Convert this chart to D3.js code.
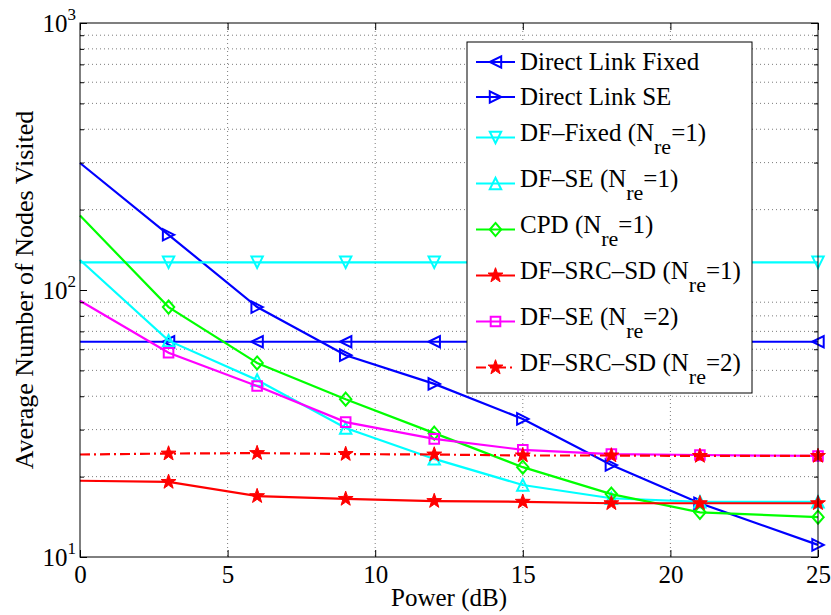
<!DOCTYPE html>
<html>
<head>
<meta charset="utf-8">
<script src="https://cdn.jsdelivr.net/npm/d3@7"></script>
<style>
  body { margin: 0; background: #fff; }
  text { font-family: "Liberation Serif", "Times New Roman", serif; fill: #000; }
</style>
</head>
<body>
<div class="canvas"></div>
<script>
const svgWidth = 831;
const svgHeight = 615;

// Data
const power = [0, 3, 6, 9, 12, 15, 18, 21, 25];
const directFixed = [64, 64, 64, 64, 64, 64, 64, 64, 64];
const directSE = [299, 161, 86.3, 57, 44.5, 32.9, 22.1, 15.9, 11.1];
const dfFixed1 = [127, 127, 127, 127, 127, 127, 127, 127, 127];
const dfSE1 = [129.5, 64.6, 46, 30.4, 23.3, 18.6, 16.6, 16.1, 16.1];
const cpd1 = [190, 86.3, 53.3, 39, 29.1, 21.7, 17.2, 14.7, 14.1];
const dfSrcSd1 = [19.3, 19.1, 16.9, 16.5, 16.2, 16.1, 15.9, 15.9, 15.9];
const dfSE2 = [91.2, 58.2, 43.7, 32, 27.7, 25.2, 24.3, 24.1, 23.9];
const dfSrcSd2 = [24.2, 24.4, 24.5, 24.3, 24.2, 24.0, 24.0, 23.9, 23.9];

const seriesNames = ['Direct Link Fixed', 'Direct Link SE', 'DF\u2013Fixed', 'DF\u2013SE', 'CPD',
    'DF\u2013SRC\u2013SD', 'DF\u2013SE', 'DF\u2013SRC\u2013SD'];
const relayCount = [null, null, 1, 1, 1, 1, 2, 2];
const seriesValues = [directFixed, directSE, dfFixed1, dfSE1, cpd1, dfSrcSd1, dfSE2, dfSrcSd2];
const seriesColors = ['#0000ff', '#0000ff', '#00ffff', '#00ffff', '#00ff00', '#ff0000', '#ff00ff', '#ff0000'];
const seriesMarkers = ['left', 'right', 'down', 'up', 'diamond', 'star', 'square', 'star'];
const seriesDash = [null, null, null, null, null, null, null, '10,4,2,4'];

const xTicks = [0, 5, 10, 15, 20, 25];
const yMajorTicks = [10, 100, 1000];

const series = seriesNames.map((name, i) => ({
    name: name,
    nre: relayCount[i],
    color: seriesColors[i],
    marker: seriesMarkers[i],
    dash: seriesDash[i],
    points: power.map((p, j) => ({ x: p, y: seriesValues[i][j] }))
}));

const svg = d3.select('.canvas')
    .append('svg')
    .attr('width', svgWidth)
    .attr('height', svgHeight);

svg.append('rect').attr('width', svgWidth).attr('height', svgHeight).attr('fill', '#fff');

const margin = { top: 23, right: 13, bottom: 58, left: 80 };
const graphWidth = svgWidth - margin.left - margin.right;
const graphHeight = svgHeight - margin.top - margin.bottom;

const graph = svg.append('g')
    .attr('transform', `translate(${margin.left}, ${margin.top})`);

const x = d3.scaleLinear().domain([0, 25]).range([0, graphWidth]);
const y = d3.scaleLog().domain([10, 1000]).range([graphHeight, 0]);

// minor log ticks 20..90, 200..900
const yMinorTicks = [];
[10, 100].forEach(dec => { for (let k = 2; k <= 9; k++) yMinorTicks.push(dec * k); });

// dotted grid
const grid = graph.append('g')
    .attr('stroke', '#444')
    .attr('stroke-width', 0.7)
    .attr('stroke-dasharray', '1,3');

grid.selectAll('.vgrid')
    .data(xTicks.slice(1, -1))
    .enter().append('line')
    .attr('x1', d => x(d)).attr('x2', d => x(d))
    .attr('y1', 0).attr('y2', graphHeight);

grid.selectAll('.hgrid')
    .data(yMinorTicks)
    .enter().append('line')
    .attr('x1', 0).attr('x2', graphWidth)
    .attr('y1', d => y(d)).attr('y2', d => y(d));

// marker shapes
function markerPath(type) {
    const r = 5.7;
    if (type === 'left') return `M${-r},0L${r},${-r}L${r},${r}Z`;
    if (type === 'right') return `M${r},0L${-r},${-r}L${-r},${r}Z`;
    if (type === 'down') return `M${-r},${-r}L${r},${-r}L0,${r}Z`;
    if (type === 'up') return `M${-r},${r}L${r},${r}L0,${-r}Z`;
    if (type === 'diamond') return `M0,${-r * 1.15}L${r},0L0,${r * 1.15}L${-r},0Z`;
    if (type === 'square') { const s = 4.8; return `M${-s},${-s}H${s}V${s}H${-s}Z`; }
    // five-pointed star
    const R = 7.8, ri = R * 0.4;
    let p = '';
    for (let i = 0; i < 10; i++) {
        const a = -Math.PI / 2 + i * Math.PI / 5;
        const rad = i % 2 ? ri : R;
        p += (i ? 'L' : 'M') + (rad * Math.cos(a)).toFixed(2) + ',' + (rad * Math.sin(a)).toFixed(2);
    }
    return p + 'Z';
}

const line = d3.line().x(d => x(d.x)).y(d => y(d.y));

const plotArea = graph.append('g');

series.forEach(s => {
    const g = plotArea.append('g');
    g.append('path')
        .attr('d', line(s.points))
        .attr('fill', 'none')
        .attr('stroke', s.color)
        .attr('stroke-width', 2.2)
        .attr('stroke-dasharray', s.dash);

    // markers on every point after the first
    g.selectAll('.marker')
        .data(s.points.slice(1))
        .enter().append('path')
        .attr('class', 'marker')
        .attr('transform', d => `translate(${x(d.x)}, ${y(d.y)})`)
        .attr('d', markerPath(s.marker))
        .attr('fill', s.marker === 'star' ? s.color : 'none')
        .attr('stroke', s.color)
        .attr('stroke-width', s.marker === 'star' ? 1 : 2);
});

// legend
const legendX = 467 - margin.left;
const legendY = 42 - margin.top;
const legend = graph.append('g').attr('transform', `translate(${legendX}, ${legendY})`);
legend.append('rect')
    .attr('width', 285).attr('height', 351)
    .attr('fill', '#fff').attr('stroke', '#000').attr('stroke-width', 1);

let rowY = 20;
series.forEach((s, i) => {
    if (i > 0) {
        const prevH = series[i - 1].nre ? 46 : 35;
        const curH = s.nre ? 46 : 35;
        rowY += (prevH + curH) / 2;
    }
    const row = legend.append('g').attr('transform', `translate(0, ${rowY})`);
    row.append('line')
        .attr('x1', 9).attr('x2', 48)
        .attr('stroke', s.color).attr('stroke-width', 2.2)
        .attr('stroke-dasharray', s.dash);
    row.append('path')
        .attr('transform', 'translate(28.5, 0)')
        .attr('d', markerPath(s.marker))
        .attr('fill', s.marker === 'star' ? s.color : 'none')
        .attr('stroke', s.color)
        .attr('stroke-width', s.marker === 'star' ? 1 : 2);

    const label = row.append('text')
        .attr('x', 53)
        .attr('y', s.nre ? 3 : 8)
        .style('font-size', '25px');
    if (s.nre) {
        label.append('tspan').text(`${s.name} (N`);
        label.append('tspan').attr('dy', 13).style('font-size', '22px').text('re');
        label.append('tspan').attr('dy', -13).text(`=${s.nre})`);
    } else {
        label.text(s.name);
    }
});

// axes: ticks inside on all four sides
const xAxisBottom = graph.append('g')
    .attr('transform', `translate(0, ${graphHeight})`)
    .call(d3.axisBottom(x).tickValues(xTicks).tickSizeInner(-7).tickSizeOuter(0).tickPadding(8));
xAxisBottom.selectAll('text').style('font-size', '25px');

graph.append('g')
    .call(d3.axisTop(x).tickValues(xTicks).tickSizeInner(-7).tickSizeOuter(0).tickFormat(''));

const yAxisLeft = graph.append('g')
    .call(d3.axisLeft(y).tickValues(yMajorTicks).tickSizeInner(-7).tickSizeOuter(0).tickPadding(4));
yAxisLeft.selectAll('.tick text')
    .style('font-size', '25px')
    .text(null)
    .each(function (d) {
        const t = d3.select(this);
        t.append('tspan').text('10');
        t.append('tspan').attr('dy', -12).style('font-size', '17px').text(Math.round(Math.log10(d)));
    });

graph.append('g')
    .call(d3.axisLeft(y).tickValues(yMinorTicks).tickSizeInner(-4).tickSizeOuter(0).tickFormat(''));

graph.append('g')
    .attr('transform', `translate(${graphWidth}, 0)`)
    .call(d3.axisRight(y).tickValues(yMajorTicks).tickSizeInner(-7).tickSizeOuter(0).tickFormat(''));

graph.append('g')
    .attr('transform', `translate(${graphWidth}, 0)`)
    .call(d3.axisRight(y).tickValues(yMinorTicks).tickSizeInner(-4).tickSizeOuter(0).tickFormat(''));

graph.selectAll('.domain').remove();
graph.selectAll('.tick line').attr('stroke', '#000');

graph.append('rect')
    .attr('width', graphWidth).attr('height', graphHeight)
    .attr('fill', 'none').attr('stroke', '#000').attr('stroke-width', 1);

// axis titles
svg.append('text')
    .attr('x', margin.left + graphWidth / 2)
    .attr('y', 606)
    .attr('text-anchor', 'middle')
    .style('font-size', '25px')
    .text('Power (dB)');

svg.append('text')
    .attr('transform', `translate(33, ${margin.top + graphHeight / 2}) rotate(-90)`)
    .attr('text-anchor', 'middle')
    .style('font-size', '26px')
    .text('Average Number of Nodes Visited');
</script>
</body>
</html>
